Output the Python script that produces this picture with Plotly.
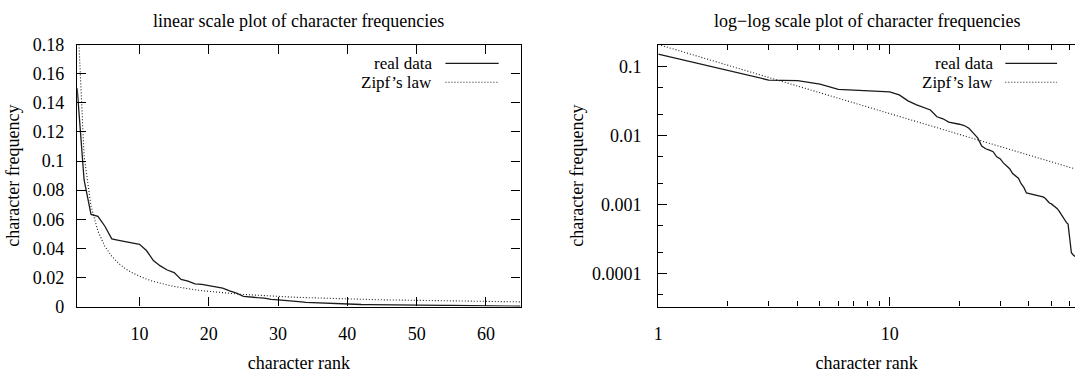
import plotly.graph_objects as go

W, H = 1075, 373
FONT = "Liberation Serif"

ranks = list(range(1, 66))
real_freq = [0.150, 0.0870, 0.0633, 0.0620, 0.0552, 0.0465, 0.0455, 0.0445, 0.0436, 0.0428,
             0.0385, 0.0316, 0.0279, 0.0251, 0.0233, 0.0186, 0.0174, 0.0156, 0.0152, 0.0145,
             0.0139, 0.0127, 0.0108, 0.0092, 0.0070, 0.0064, 0.0061, 0.0058, 0.0049, 0.0046,
             0.0040, 0.0036, 0.0033, 0.0028, 0.0026, 0.0024, 0.0020, 0.00177, 0.00147, 0.00144,
             0.00141, 0.00138, 0.00135, 0.00134, 0.00132, 0.00129, 0.00123, 0.00115, 0.00105, 0.00102,
             0.00096, 0.00093, 0.00087, 0.00080, 0.00072, 0.00065, 0.00058, 0.00055, 0.00052, 0.00032,
             0.00020, 0.000187, 0.000179, 0.000172, 0.000165]
zipf_freq = [0.207, 0.1035, 0.069, 0.05175, 0.0414, 0.0345, 0.02957, 0.02588, 0.023, 0.0207,
             0.01882, 0.01725, 0.01592, 0.01479, 0.0138, 0.01294, 0.01218, 0.0115, 0.01089, 0.01035,
             0.009857, 0.009409, 0.009, 0.008625, 0.00828, 0.007962, 0.007667, 0.007393, 0.007138, 0.0069,
             0.006677, 0.006469, 0.006273, 0.006088, 0.005914, 0.00575, 0.005595, 0.005447, 0.005308, 0.005175,
             0.005049, 0.004929, 0.004814, 0.004705, 0.0046, 0.0045, 0.004404, 0.004313, 0.004224, 0.00414,
             0.004059, 0.003981, 0.003906, 0.003833, 0.003764, 0.003696, 0.003632, 0.003569, 0.003508, 0.00345,
             0.003393, 0.003339, 0.003286, 0.003234, 0.003185]

lin_xticks = [10, 20, 30, 40, 50, 60]
lin_yticks = [0, 0.02, 0.04, 0.06, 0.08, 0.1, 0.12, 0.14, 0.16, 0.18]
lin_ytext = ["0", "0.02", "0.04", "0.06", "0.08", "0.1", "0.12", "0.14", "0.16", "0.18"]
log_xticks = [1, 10]
log_xminor = [2, 3, 4, 5, 6, 7, 8, 9, 20, 30, 40, 50, 60]
log_yticks = [0.1, 0.01, 0.001, 0.0001]
log_ytext = ["0.1", "0.01", "0.001", "0.0001"]
log_yminor = [0.05, 0.02, 0.005, 0.002, 0.0005, 0.0002, 0.00005]
series_names = ["real data", "Zipf\u2019s law"]

def px(x):
    return x / W

def py(y):
    return 1 - y / H

fig = go.Figure()

solid = dict(color="#1a1a1a", width=1.3)
dotted = dict(color="#1a1a1a", width=1.1, dash="1px,2px")

fig.add_trace(go.Scatter(x=ranks, y=real_freq, mode="lines", line=solid,
                         name=series_names[0], showlegend=False, xaxis="x", yaxis="y"))
fig.add_trace(go.Scatter(x=ranks, y=zipf_freq, mode="lines", line=dotted,
                         name=series_names[1], showlegend=False, xaxis="x", yaxis="y"))
fig.add_trace(go.Scatter(x=ranks, y=real_freq, mode="lines", line=solid,
                         name=series_names[0], showlegend=False, xaxis="x2", yaxis="y2"))
fig.add_trace(go.Scatter(x=ranks, y=zipf_freq, mode="lines", line=dotted,
                         name=series_names[1], showlegend=False, xaxis="x2", yaxis="y2"))

tickfont = dict(family=FONT, size=18, color="black")
titlefont = dict(family=FONT, size=18, color="black")
legendfont = dict(family=FONT, size=17, color="black")
ydom = [py(313.3), py(36.7)]
common = dict(showgrid=False, zeroline=False, showline=True, linecolor="black", linewidth=1.4,
              ticks="inside", tickcolor="black", tickwidth=1.2, tickfont=tickfont)

fig.update_layout(
    width=W, height=H,
    margin=dict(l=0, r=0, t=0, b=0),
    paper_bgcolor="white", plot_bgcolor="white",
    showlegend=False,
    xaxis=dict(domain=[px(72.5), px(518)], range=[1, 65], tickvals=lin_xticks,
               ticklen=9, mirror="ticks", anchor="y", ticklabelstandoff=11,
               title=dict(text="character rank", font=titlefont, standoff=14), **common),
    yaxis=dict(domain=ydom, range=[0, 0.18], tickvals=lin_yticks, ticktext=lin_ytext,
               ticklen=9, mirror="ticks", anchor="x", ticklabelstandoff=8,
               title=dict(text="character frequency", font=titlefont, standoff=8), **common),
    xaxis2=dict(domain=[px(656.3), 1.0], type="log", range=[0, 1.8009], tickvals=log_xticks,
                ticktext=["1", "10"], ticklen=9, mirror="ticks", anchor="y2", ticklabelstandoff=11,
                minor=dict(tickvals=log_xminor, ticklen=5, ticks="inside", tickcolor="black", tickwidth=1.2),
                title=dict(text="character rank", font=titlefont, standoff=14), **common),
    yaxis2=dict(domain=ydom, type="log", range=[-4.4767, -0.6877], tickvals=log_yticks,
                ticktext=log_ytext, ticklen=9, mirror=False, anchor="x2", ticklabelstandoff=12,
                minor=dict(tickvals=log_yminor, ticklen=5, ticks="inside", tickcolor="black", tickwidth=1.2),
                title=dict(text="character frequency", font=titlefont, standoff=3), **common),
    yaxis3=dict(domain=ydom, type="log", range=[-4.4767, -0.6877], tickvals=log_yticks,
                overlaying="y2", side="right", anchor="x2", showticklabels=False,
                showgrid=False, zeroline=False, showline=False, ticks="inside", ticklen=6,
                tickcolor="black", tickwidth=1.2,
                minor=dict(tickvals=log_yminor, ticklen=2, ticks="inside", tickcolor="black", tickwidth=1.2)),
)

# subplot titles
fig.add_annotation(text="linear scale plot of character frequencies", x=px(295.3), y=py(12),
                   xref="paper", yref="paper", xanchor="center", yanchor="middle",
                   showarrow=False, font=titlefont)
fig.add_annotation(text="log\u2212log scale plot of character frequencies", x=px(867), y=py(12),
                   xref="paper", yref="paper", xanchor="center", yanchor="middle",
                   showarrow=False, font=titlefont)

# legends (text on the left, sample on the right, as in the reference)
legend_specs = [
    (430.4, 442.5, 496.0),
    (993.5, 1005.0, 1057.0),
]
rows = [56.3, 76.3]
for tx, lx0, lx1 in legend_specs:
    for name, rowy, style in zip(series_names, rows, [solid, dotted]):
        fig.add_annotation(text=name, x=px(tx), y=py(rowy), xref="paper", yref="paper",
                           xanchor="right", yanchor="middle", showarrow=False, font=legendfont,
                           borderpad=0)
        fig.add_shape(type="line", xref="paper", yref="paper", x0=px(lx0), x1=px(lx1),
                      y0=py(rowy), y1=py(rowy), line=style)

fig.write_html("out.html")
